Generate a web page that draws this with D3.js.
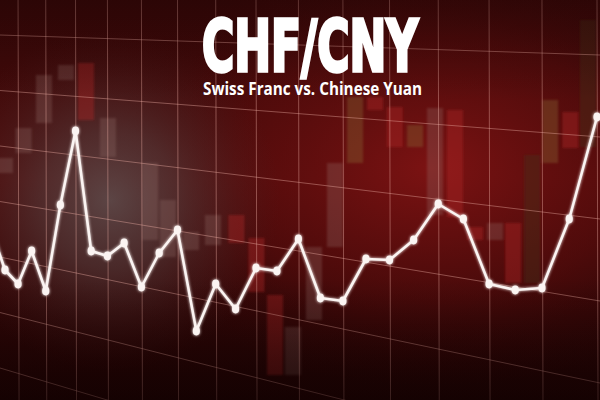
<!DOCTYPE html>
<html><head><meta charset="utf-8">
<script src="https://cdn.jsdelivr.net/npm/d3@7"></script>
<style>html,body{margin:0;padding:0;background:#2a0505;}svg{display:block;}</style>
</head><body>
<script>
// ---- data ----
const title = "CHF/CNY";
const subtitle = "Swiss Franc vs. Chinese Yuan";
const lineIndex = [-1,0,1,2,3,4,5,6,7,8,9,10,11,12,13,14,15,16,17,18,19,20,21,22,23,24,25,26,27,28,29];
const lineValues = [7.301,7.190,7.148,7.247,7.127,7.385,7.607,7.247,7.232,7.271,7.139,7.241,7.310,7.007,7.148,7.073,7.196,7.187,7.283,7.106,7.097,7.223,7.220,7.280,7.388,7.343,7.148,7.130,7.136,7.343,7.649];
const candleIndex = [0,1.41,2.88,4.38,5.67,7.03,9.49,10.48,11.72,12.86,14.04,15.02,15.91,16.75,17.71,18.65,19.53,20.39,21.22,22.06,22.87,23.67,24.46,25.23,25.92,26.63,27.3,28.04,28.68];
const candleHigh = [7.526,7.616,7.775,7.805,7.811,7.646,7.511,7.400,7.304,7.355,7.355,7.286,7.115,7.019,7.259,7.511,7.709,7.709,7.679,7.625,7.676,7.670,7.319,7.331,7.331,7.535,7.700,7.664,7.940];
const candleLow  = [7.481,7.541,7.631,7.760,7.640,7.529,7.280,7.229,7.250,7.265,7.271,7.124,6.875,6.875,7.040,7.259,7.511,7.670,7.559,7.559,7.355,7.349,7.280,7.280,7.151,7.151,7.511,7.556,7.559];
const candleKind = ["g","g","g","g","r","g","g","g","g","g","r","r","r","g","g","g","o","r","r","o","g","r","r","g","r","d","o","r","d"];
const gridIndex = [-1,1,3,5,7,9,11,13,15,17,19,21,23,25,27,29,31];
const hGridRows = [0,1,2,3,4,5,6];

const W = 600, H = 400;
const svg = d3.select("body").append("svg").attr("width", W).attr("height", H);
const defs = svg.append("defs");

// background gradients
const bg = defs.append("linearGradient").attr("id","bg").attr("x1",0).attr("y1",0).attr("x2",0).attr("y2",1);
bg.append("stop").attr("offset","0%").attr("stop-color","#360808");
bg.append("stop").attr("offset","45%").attr("stop-color","#4e0b0b");
bg.append("stop").attr("offset","100%").attr("stop-color","#1a0303");
const rr = defs.append("radialGradient").attr("id","redglow").attr("cx","0.72").attr("cy","0.42").attr("r","0.55");
rr.append("stop").attr("offset","0%").attr("stop-color","#7e1313").attr("stop-opacity",0.95);
rr.append("stop").attr("offset","60%").attr("stop-color","#5e0d0d").attr("stop-opacity",0.5);
rr.append("stop").attr("offset","100%").attr("stop-color","#3a0808").attr("stop-opacity",0);
const gg = defs.append("radialGradient").attr("id","greyglow").attr("gradientUnits","userSpaceOnUse")
  .attr("cx",110).attr("cy",200).attr("r",170);
gg.append("stop").attr("offset","0%").attr("stop-color","#625858").attr("stop-opacity",0.75);
gg.append("stop").attr("offset","40%").attr("stop-color","#574444").attr("stop-opacity",0.55);
gg.append("stop").attr("offset","100%").attr("stop-color","#4a2020").attr("stop-opacity",0);
const vg = defs.append("linearGradient").attr("id","vig").attr("x1",0).attr("y1",0).attr("x2",0).attr("y2",1);
vg.append("stop").attr("offset","0%").attr("stop-color","#1a0202").attr("stop-opacity",0.35);
vg.append("stop").attr("offset","25%").attr("stop-color","#1a0202").attr("stop-opacity",0);
vg.append("stop").attr("offset","70%").attr("stop-color","#1a0202").attr("stop-opacity",0);
vg.append("stop").attr("offset","100%").attr("stop-color","#120101").attr("stop-opacity",0.6);
defs.append("filter").attr("id","soft").append("feGaussianBlur").attr("stdDeviation",1.2);
const glow = defs.append("filter").attr("id","glow").attr("x","-10%").attr("y","-10%").attr("width","120%").attr("height","120%");
glow.append("feGaussianBlur").attr("in","SourceGraphic").attr("stdDeviation",1.5).attr("result","b");
const fm = glow.append("feMerge"); fm.append("feMergeNode").attr("in","b"); fm.append("feMergeNode").attr("in","SourceGraphic");

svg.append("rect").attr("width",W).attr("height",H).attr("fill","url(#bg)");
svg.append("rect").attr("width",W).attr("height",H).attr("fill","url(#redglow)");
svg.append("rect").attr("width",W).attr("height",H).attr("fill","url(#greyglow)");

// ---- scales ----
const k = 0.02055;
const warp = i => i + k * i * i;
const xLin = d3.scaleLinear().domain([0, warp(29)]).range([5, 597]);
const x = i => xLin(warp(i));
const y = d3.scaleLinear().domain([8.0, 6.8]).range([0, H]);

// ---- candles ----
const kindFill = {g:"rgba(150,115,110,0.28)", r:"rgba(175,35,35,0.42)", o:"rgba(140,105,55,0.35)", d:"rgba(70,45,30,0.4)"};
const candles = candleIndex.map((c,i)=>({c, hi:candleHigh[i], lo:candleLow[i], kind:candleKind[i]}));
svg.append("g").attr("filter","url(#soft)").selectAll("rect").data(candles).join("rect")
  .attr("x", d => x(d.c) - 8).attr("width", 16)
  .attr("y", d => y(d.hi)).attr("height", d => y(d.lo) - y(d.hi))
  .attr("fill", d => kindFill[d.kind]);

// ---- grid ----
const grid = svg.append("g").attr("stroke","rgba(235,175,165,0.42)").attr("stroke-width",1);
grid.selectAll("line.v").data(gridIndex).join("line").attr("class","v")
  .attr("x1", d => x(d)).attr("x2", d => x(d) + 1).attr("y1", 0).attr("y2", H);
const rowLeft = d3.scaleLinear().domain([0,1]).range([35, 90.5]);
const rowRight = d3.scaleLinear().domain([0,1]).range([55, 137]);
grid.selectAll("line.h").data(hGridRows).join("line").attr("class","h")
  .attr("x1", 0).attr("x2", W).attr("y1", d => rowLeft(d)).attr("y2", d => rowRight(d));

svg.append("rect").attr("width",W).attr("height",H).attr("fill","url(#vig)");

// ---- line ----
const pts = lineIndex.map((c,i)=>({c, v:lineValues[i]}));
const lineGen = d3.line().x(d => x(d.c)).y(d => y(d.v));
const lg = svg.append("g").attr("filter","url(#glow)");
lg.append("path").datum(pts).attr("d", lineGen).attr("fill","none")
  .attr("stroke","#fbf4f2").attr("stroke-width",2.6).attr("stroke-linejoin","round");
lg.selectAll("ellipse").data(pts.filter(d => d.c >= 0)).join("ellipse")
  .attr("cx", d => x(d.c)).attr("cy", d => y(d.v)).attr("rx",3.6).attr("ry",4.4).attr("fill","#fbf4f2");

// ---- titles ----
svg.append("text").attr("x",202).attr("y",71).text(title)
  .attr("font-family","'Liberation Sans Narrow','DejaVu Sans Condensed',sans-serif")
  .attr("font-weight","bold").attr("font-size",72).attr("fill","#fff")
  .attr("stroke","#fff").attr("stroke-width",3.4).attr("stroke-linejoin","miter")
  .attr("textLength",216).attr("lengthAdjust","spacingAndGlyphs");
svg.append("text").attr("x",203).attr("y",95).text(subtitle)
  .attr("font-family","'Open Sans','DejaVu Sans',sans-serif")
  .attr("font-weight","bold").attr("font-size",17.5).attr("fill","#fff")
  .attr("textLength",219).attr("lengthAdjust","spacingAndGlyphs");
</script>
</body></html>
